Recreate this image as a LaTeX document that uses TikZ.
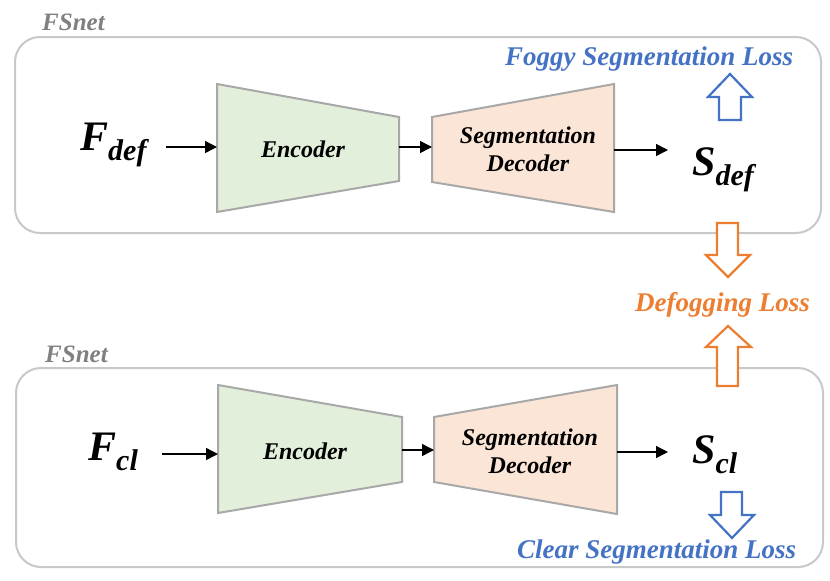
\documentclass[tikz,border=0pt]{standalone}
\usepackage{fontspec}
\setmainfont{Liberation Serif}
\usetikzlibrary{arrows.meta}
\definecolor{boxgray}{RGB}{200,200,200}
\definecolor{trapgray}{RGB}{168,168,168}
\definecolor{encgreen}{RGB}{226,239,218}
\definecolor{decorange}{RGB}{251,229,214}
\definecolor{lossblue}{RGB}{68,114,196}
\definecolor{lossorange}{RGB}{237,125,49}
\definecolor{labgray}{RGB}{128,128,128}
\tikzset{
  netbox/.style={draw=boxgray, line width=2pt, rounded corners=25pt},
  encshape/.style={draw=trapgray, line width=2pt, fill=encgreen},
  decshape/.style={draw=trapgray, line width=2pt, fill=decorange},
  flow/.style={line width=1.4pt, -{Triangle[length=12pt,width=12pt]}},
  blocktxt/.style={font=\fontsize{24}{28}\selectfont\bfseries\itshape, align=center, inner sep=0},
  losstxt/.style={font=\fontsize{27}{27}\selectfont\bfseries\itshape, anchor=base west, inner sep=0},
  netlab/.style={font=\fontsize{25}{25}\selectfont\bfseries\itshape, text=labgray, anchor=base west, inner sep=0},
  vartxt/.style={font=\bfseries\itshape, anchor=base west, inner sep=0},
  hollow/.style={line width=2.2pt, fill=white, line join=miter}
}
\newcommand{\varlab}[2]{{\fontsize{42}{42}\selectfont #1}{\fontsize{30}{30}\selectfont\raisebox{-10pt}{#2}}}
\begin{document}
\begin{tikzpicture}[x=1pt,y=-1pt]
\useasboundingbox (0,0) rectangle (830,581);
\fill[white] (0,0) rectangle (830,581);

% ---------- top network ----------
\draw[netbox] (15,37) rectangle (821,233);
\node[netlab] (lab1) at (42,30) {FSnet};
\draw[encshape] (217,84) -- (399,117) -- (399,181) -- (217,212) -- cycle;
\draw[decshape] (432,117) -- (614,84) -- (614,212) -- (432,182) -- cycle;
\node[blocktxt] (enc1) at (303,149) {Encoder};
\node[blocktxt] (dec1) at (528,149) {Segmentation\\Decoder};
\coordinate (enc1w) at (217,147);
\coordinate (enc1e) at (399,147);
\coordinate (dec1w) at (432,147);
\coordinate (dec1e) at (614,150);
\node[vartxt] (fdef) at (80,150) {\varlab{F}{def}};
\node[vartxt] (sdef) at (692,175) {\varlab{S}{def}};
\coordinate (fdefo) at (166,147);
\coordinate (sdefi) at (668,150);
\draw[flow] (fdefo) -- (enc1w);
\draw[flow] (enc1e) -- (dec1w);
\draw[flow] (dec1e) -- (sdefi);

% ---------- bottom network ----------
\draw[netbox] (16,368) rectangle (823,567);
\node[netlab] (lab2) at (45,362) {FSnet};
\draw[encshape] (218,385) -- (402,417) -- (402,482) -- (218,513) -- cycle;
\draw[decshape] (434,417) -- (617,385) -- (617,514) -- (434,482) -- cycle;
\node[blocktxt] (enc2) at (305,451) {Encoder};
\node[blocktxt] (dec2) at (530,451) {Segmentation\\Decoder};
\coordinate (enc2w) at (218,454);
\coordinate (enc2e) at (402,450);
\coordinate (dec2w) at (434,450);
\coordinate (dec2e) at (617,452);
\node[vartxt] (fcl) at (88,460) {\varlab{F}{cl}};
\node[vartxt] (scl) at (692,463) {\varlab{S}{cl}};
\coordinate (fclo) at (162,454);
\coordinate (scli) at (668,452);
\draw[flow] (fclo) -- (enc2w);
\draw[flow] (enc2e) -- (dec2w);
\draw[flow] (dec2e) -- (scli);

% ---------- losses ----------
\node[losstxt, text=lossblue] (foggy) at (505,65) {Foggy Segmentation Loss};
\node[losstxt, text=lossorange] (defog) at (635,311) {Defogging Loss};
\node[losstxt, text=lossblue] (clear) at (517,558) {Clear Segmentation Loss};

% blue up arrow (S_def -> foggy loss)
\draw[hollow, draw=lossblue] (719,120) -- (741,120) -- (741,97) -- (752,97) -- (730,74) -- (708,97) -- (719,97) -- cycle;
% orange down arrow (top box -> defogging loss)
\draw[hollow, draw=lossorange] (717,223) -- (738,223) -- (738,255) -- (750,255) -- (728,277) -- (706,255) -- (717,255) -- cycle;
% orange up arrow (bottom box -> defogging loss)
\draw[hollow, draw=lossorange] (717,386) -- (738,386) -- (738,347) -- (751,347) -- (728,326) -- (706,347) -- (717,347) -- cycle;
% blue down arrow (S_cl -> clear loss)
\draw[hollow, draw=lossblue] (721,492) -- (742,492) -- (742,515) -- (754,515) -- (732,538) -- (710,515) -- (721,515) -- cycle;
\end{tikzpicture}
\end{document}
